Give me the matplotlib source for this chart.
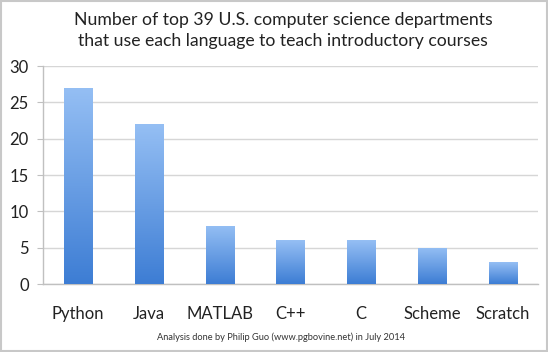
import matplotlib
matplotlib.use("Agg")
import matplotlib.pyplot as plt
import numpy as np
from matplotlib.patches import Rectangle
from matplotlib.colors import LinearSegmentedColormap

languages = ["Python", "Java", "MATLAB", "C++", "C", "Scheme", "Scratch"]
counts = [27, 22, 8, 6, 6, 5, 3]
yticks = [0, 5, 10, 15, 20, 25, 30]
title = "Number of top 39 U.S. computer science departments\nthat use each language to teach introductory courses"
footnote = "Analysis done by Philip Guo (www.pgbovine.net) in July 2014"

plt.rcParams['font.family'] = ['Lato', 'DejaVu Sans']

fig = plt.figure(figsize=(5.48, 3.52), dpi=100)
fig.patch.set_facecolor("white")
fig.add_artist(Rectangle((0.002, 0.003), 0.996, 0.994, transform=fig.transFigure,
                         fill=False, edgecolor="#c8c8c8", linewidth=1.5))

ax = fig.add_axes([0.078, 0.193, 0.904, 0.619])
x = np.arange(len(languages))
bars = ax.bar(x, counts, width=0.4, color="none", zorder=3)

grad = np.linspace(0, 1, 256).reshape(-1, 1)
cmap = LinearSegmentedColormap.from_list("g", ["#3d7dd4", "#95bff4"])
for b in bars:
    x0, y0 = b.get_x(), b.get_y()
    w, h = b.get_width(), b.get_height()
    im = ax.imshow(grad, extent=[x0, x0 + w, y0, y0 + h], origin="lower",
                   cmap=cmap, aspect="auto", zorder=3)
    im.set_clip_path(b)

ax.set_xlim(-0.5, len(languages) - 0.5)
ax.set_ylim(0, 30)
ax.set_yticks(yticks)
ax.set_yticklabels([str(t) for t in yticks], fontsize=12, color="#222222")
ax.yaxis.grid(True, color="#d6d6d6", linewidth=1, zorder=0)
ax.set_axisbelow(True)
ax.tick_params(axis="y", length=4, color="#c0c0c0", pad=6)
ax.set_xticks(x)
ax.set_xticklabels(languages, fontsize=12, color="#222222")
ax.tick_params(axis="x", length=0, pad=16)
for s in ["top", "right"]:
    ax.spines[s].set_visible(False)
for s in ["left", "bottom"]:
    ax.spines[s].set_color("#c0c0c0")
    ax.spines[s].set_linewidth(1)

fig.text(0.517, 0.914, title, ha="center", va="center", fontsize=12.7,
         color="#222222", linespacing=1.4)
fig.text(0.512, 0.043, footnote, ha="center", va="center", fontsize=6.7, color="#333333")

fig.savefig("out.png", dpi=100)
